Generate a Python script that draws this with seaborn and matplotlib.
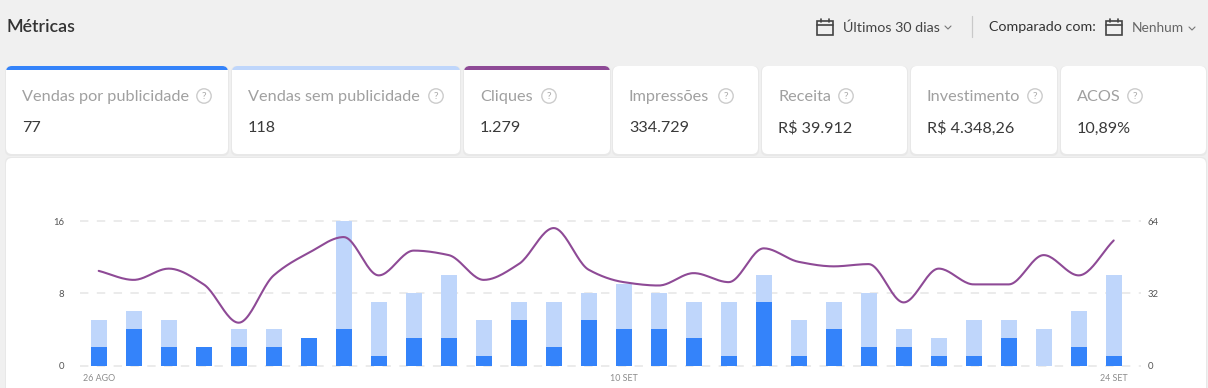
import numpy as np
import pandas as pd
import matplotlib
matplotlib.use("Agg")
import matplotlib.pyplot as plt
from matplotlib.patches import FancyBboxPatch, Rectangle, Circle
import seaborn as sns

# ---------- data ----------
dias = list(range(1, 31))
vendas_pub = [2, 4, 2, 2, 2, 2, 3, 4, 1, 3, 3, 1, 5, 2, 5, 4, 4, 3, 1, 7, 1, 4, 2, 2, 1, 1, 3, 0, 2, 1]
vendas_sem = [3, 2, 3, 0, 2, 2, 0, 12, 6, 5, 7, 4, 2, 5, 3, 5, 4, 4, 6, 3, 4, 3, 6, 2, 2, 4, 2, 4, 4, 9]
cliques = [42, 38, 43, 36, 19, 40, 50, 57, 40, 51, 49, 38, 45, 61, 42.5, 37, 35.5, 41, 37, 52,
           46, 44, 45, 28, 43, 36, 36, 49, 40, 55.5]
x_labels = {0: "26 AGO", 15: "10 SET", 29: "24 SET"}
y_left = [0, 8, 16]
y_right = [0, 32, 64]
card_titles = ["Vendas por publicidade", "Vendas sem publicidade", "Cliques", "Impressões",
               "Receita", "Investimento", "ACOS"]
card_values = ["77", "118", "1.279", "334.729", "R$ 39.912", "R$ 4.348,26", "10,89%"]

# ---------- style / layout ----------
W, H = 1208, 388
BG, DARK, LIGHT, PURPLE = "#f0f0f0", "#3483fa", "#bfd6fb", "#8e4a96"
sns.set_theme(style="white")
plt.rcParams["font.family"] = ["Lato", "DejaVu Sans"]

card_x0 = [6, 232, 464, 613, 762, 911, 1061]
card_x1 = [228, 460, 610, 758, 907, 1057, 1206]
card_top = [DARK, LIGHT, PURPLE, None, None, None, None]
help_x = [204, 436, 549, 726, 846, 1035, 1135]
text_x = [22, 248, 480, 629, 778, 927, 1077]

fig = plt.figure(figsize=(W / 100, H / 100), dpi=100, facecolor=BG)
bg = fig.add_axes([0, 0, 1, 1], zorder=0)
bg.set_xlim(0, W)
bg.set_ylim(H, 0)
bg.axis("off")


def rounded(x0, y0, x1, y1, color, r=6, z=1, ec="none", lw=0):
    p = FancyBboxPatch((x0 + r, y0 + r), x1 - x0 - 2 * r, y1 - y0 - 2 * r,
                       boxstyle=f"round,pad={r},rounding_size={r}",
                       fc=color, ec=ec, lw=lw, zorder=z)
    bg.add_patch(p)


def calendar(x, y, s=16, c="#444444"):
    bg.add_patch(Rectangle((x, y + 2), s, s - 2, fc="none", ec=c, lw=1.2, zorder=5))
    bg.plot([x, x + s], [y + 6, y + 6], color=c, lw=1.2, zorder=5)
    for dx in (4, s - 4):
        bg.plot([x + dx, x + dx], [y, y + 3], color=c, lw=1.2, zorder=5)


def chevron(x, y, c="#777777"):
    bg.plot([x, x + 3, x + 6], [y, y + 3, y], color=c, lw=0.8, zorder=5)


# header
bg.text(6, 27, "Métricas", fontsize=12.8, color="#333333", va="center", ha="left", fontweight="semibold")
calendar(817, 19)
bg.text(843, 27.5, "Últimos 30 dias", fontsize=10.3, color="#444444", va="center", ha="left")
chevron(945, 26)
bg.plot([972, 972], [16, 37], color="#c9c9c9", lw=0.9)
bg.text(989, 27, "Comparado com:", fontsize=10.3, color="#333333", va="center", ha="left")
calendar(1106, 19)
bg.text(1132, 28, "Nenhum", fontsize=9.9, color="#666666", va="center", ha="left")
chevron(1189, 27)

# metric cards
for i, title in enumerate(card_titles):
    x0, x1 = card_x0[i], card_x1[i]
    rounded(x0 - 1, 66, x1 + 1, 156, "#e8e8e8", z=1)
    if card_top[i]:
        rounded(x0, 66, x1, 95, card_top[i], z=2)
        rounded(x0, 70, x1, 154, "#ffffff", z=3)
        bg.add_patch(Rectangle((x0, 70), x1 - x0, 14, fc="white", ec="none", zorder=3))
    else:
        rounded(x0, 66, x1, 154, "#ffffff", z=3)
    bg.text(text_x[i], 97, title, fontsize=11.7, color="#a0a0a0", va="center", ha="left", zorder=5)
    bg.text(text_x[i], 128.5, card_values[i], fontsize=11.6, color="#3a3a3a", va="center", ha="left", zorder=5)
    bg.add_patch(Circle((help_x[i], 96), 7.2, fc="none", ec="#cccccc", lw=1, zorder=5))
    bg.text(help_x[i], 96.5, "?", fontsize=7.5, color="#aaaaaa", va="center", ha="center", zorder=5)

# chart card
rounded(5, 157, 1207, 400, "#e8e8e8", z=1)
rounded(6, 158, 1206, 400, "#ffffff", z=3)

# chart axes: bars are spaced 35 px, first centred at x=99; y=0 at 365.5, y=16 at 221.3
PX0, PX1, PY0, PY16 = 80, 1141, 365.5, 221.3
CX0 = 98.7
ax = fig.add_axes([PX0 / W, 1 - PY0 / H, (PX1 - PX0) / W, (PY0 - PY16) / H], zorder=2)
ax.patch.set_alpha(0)
df = pd.DataFrame({"dia": dias, "pub": vendas_pub, "sem": vendas_sem, "cliques": cliques})
df["total"] = df["pub"] + df["sem"]

sns.barplot(data=df, x="dia", y="total", color=LIGHT, saturation=1, width=16 / 35, ax=ax, zorder=3, linewidth=0)
sns.barplot(data=df, x="dia", y="pub", color=DARK, saturation=1, width=16 / 35, ax=ax, zorder=4, linewidth=0)
xlim = ((PX0 - CX0) / 35, (PX1 - CX0) / 35)
ax.set_xlim(*xlim)
ax.set_ylim(0, 16)
ax.set_xlabel("")
ax.set_ylabel("")
ax.set_yticks(y_left)
ax.set_yticklabels([str(v) for v in y_left], fontsize=6.8, color="#555555")
ax.set_xticks(list(x_labels))
ax.set_xticklabels(list(x_labels.values()), fontsize=6.4, color="#8c8c8c")
ax.tick_params(axis="y", length=0, pad=11.5)
ax.tick_params(axis="x", length=0, pad=6)
ax.yaxis.grid(True, color="#e6e6e6", linestyle=(0, (5.5, 5.5)), linewidth=1.1, clip_on=False)
ax.set_axisbelow(True)
sns.despine(ax=ax, left=True, bottom=True, right=True, top=True)


def monotone(xs, ys, n=24):
    """Draw-time curve through the data points (monotone cubic, as the chart does)."""
    xs, ys = np.asarray(xs, float), np.asarray(ys, float)
    s = np.diff(ys) / np.diff(xs)
    m = np.zeros_like(ys)
    for i in range(1, len(ys) - 1):
        if s[i - 1] * s[i] > 0:
            m[i] = 2 * s[i - 1] * s[i] / (s[i - 1] + s[i])
    m[0], m[-1] = s[0], s[-1]
    out_x, out_y = [], []
    for i in range(len(xs) - 1):
        t = np.linspace(0, 1, n, endpoint=False)
        h = xs[i + 1] - xs[i]
        out_x.append(xs[i] + t * h)
        out_y.append((2 * t**3 - 3 * t**2 + 1) * ys[i] + (t**3 - 2 * t**2 + t) * h * m[i]
                     + (-2 * t**3 + 3 * t**2) * ys[i + 1] + (t**3 - t**2) * h * m[i + 1])
    return np.r_[np.concatenate(out_x), xs[-1]], np.r_[np.concatenate(out_y), ys[-1]]


ax2 = ax.twinx()
ax2.patch.set_alpha(0)
cx, cy = monotone(np.arange(len(cliques)), df["cliques"])
sns.lineplot(x=cx, y=cy, color=PURPLE, linewidth=1.5, ax=ax2, zorder=6)
ax2.set_xlim(*xlim)
ax2.set_ylim(0, 64)
ax2.set_yticks(y_right)
ax2.set_yticklabels([str(v) for v in y_right], fontsize=6.8, color="#555555")
ax2.tick_params(axis="y", length=0, pad=5)
ax2.grid(False)
ax2.set_ylabel("")
sns.despine(ax=ax2, left=True, bottom=True, right=True, top=True)

fig.savefig("out.png", dpi=100, facecolor=BG)
